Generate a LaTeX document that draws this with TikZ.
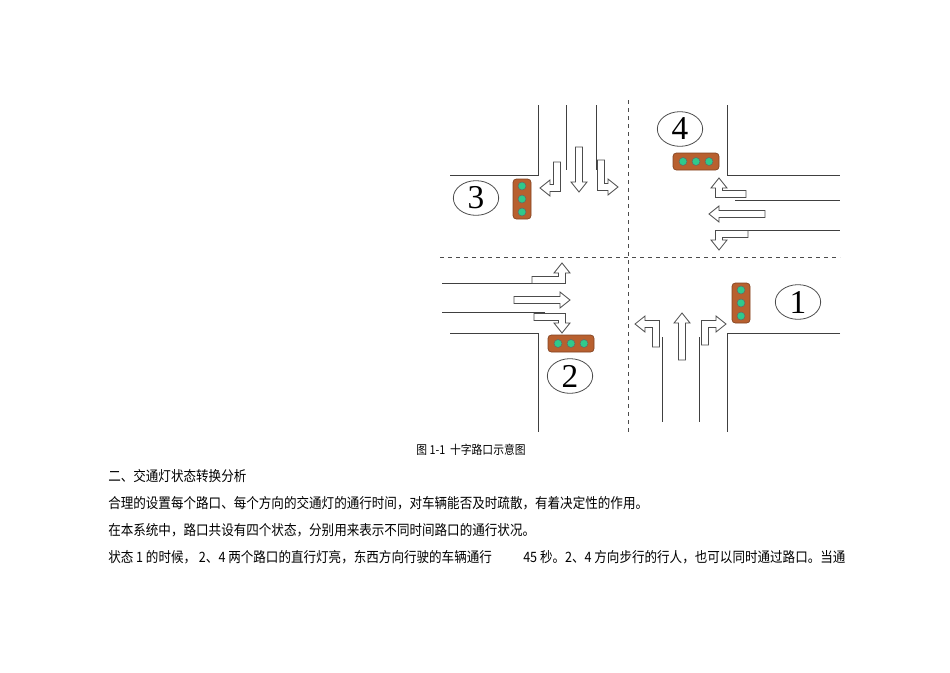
\documentclass[tikz,border=0pt]{standalone}
\usepackage{fontspec}
\usetikzlibrary{shapes.geometric}
\setmainfont{Liberation Serif}
\newfontfamily\cjk[FakeStretch=0.88]{Noto Sans CJK SC}
\newcommand\strarr[5]{\begin{scope}[shift={(#1,#2)},x={({(#3)*0.75pt},{-(#4)*0.75pt})},y={({(#4)*0.75pt},{(#3)*0.75pt})}]
\draw[arr] (0,-3.5) -- (#5-10,-3.5) -- (#5-10,-8) -- (#5,0) -- (#5-10,8) -- (#5-10,3.5) -- (0,3.5) -- cycle;
\end{scope}}
\newcommand\turnarr[8]{\begin{scope}[shift={(#1,#2)},x={({(#3)*0.75pt},{-(#4)*0.75pt})},y={({(#5)*0.75pt},{-(#6)*0.75pt})}]
\draw[arr] (0,-3.5) -- (#7+3.5,-3.5) -- (#7+3.5,#8-10) -- (#7+8,#8-10) -- (#7,#8) -- (#7-8,#8-10) -- (#7-3.5,#8-10) -- (#7-3.5,3.5) -- (0,3.5) -- cycle;
\end{scope}}
\definecolor{lbox}{HTML}{B8602F}
\definecolor{lamp}{HTML}{2FC98C}
\begin{document}
\begin{tikzpicture}[x=0.75pt,y=-0.75pt,
  road/.style={draw=black!75,line width=0.7pt},
  cline/.style={draw=black!70,line width=0.7pt,dashed},
  arr/.style={draw=black!70,fill=white,line width=0.6pt,line join=miter},
  lbx/.style={fill=lbox,draw=lbox!70!black,rounded corners=2.5pt,line width=0.5pt},
  lmp/.style={fill=lamp,draw=black!60,line width=0.4pt},
  num/.style={draw=black!70,ellipse,line width=0.6pt,minimum width=34pt,minimum height=26pt,inner sep=0pt,font=\fontsize{25}{25}\selectfont},
  txt/.style={anchor=west,inner sep=0pt,font=\cjk\fontsize{10.7}{12}\selectfont}]
\useasboundingbox (0,0) rectangle (950,672);
% dashed centre lines
\draw[cline] (628,100) -- (628,434);
\draw[cline] (440,257) -- (840,257);
% road edges
\draw[road] (538,105) -- (538,175) -- (450,175);
\draw[road] (566,105) -- (566,170);
\draw[road] (596,105) -- (596,170);
\draw[road] (727,105) -- (727,175) -- (840,175);
\draw[road] (735,200) -- (840,200);
\draw[road] (737,230) -- (840,230);
\draw[road] (840,333) -- (727,333) -- (727,432);
\draw[road] (662,337) -- (662,422);
\draw[road] (699,337) -- (699,422);
\draw[road] (450,333) -- (538,333) -- (538,432);
\draw[road] (442,283) -- (543,283);
\draw[road] (442,312) -- (545,312);
% arrows: top
\strarr{579}{147}{0}{1}{45}
\turnarr{557}{162}{0}{1}{-1}{0}{26}{17}
\turnarr{601}{160}{0}{1}{1}{0}{27}{17}
% right
\turnarr{746}{194}{-1}{0}{0}{-1}{27}{16}
\strarr{765}{214}{-1}{0}{56}
\turnarr{748}{234}{-1}{0}{0}{1}{29}{16}
% left
\turnarr{532}{280}{1}{0}{0}{-1}{30}{17}
\strarr{514}{300}{1}{0}{56}
\turnarr{534}{317}{1}{0}{0}{1}{28}{16}
% bottom
\turnarr{656}{347}{0}{-1}{-1}{0}{23}{21}
\strarr{682}{360}{0}{-1}{47}
\turnarr{705}{345}{0}{-1}{1}{0}{21}{21}
% lights
\draw[lbx] (513,179) rectangle (531,219);
\foreach \k in {-13,0,13} \draw[lmp] (522,199+\k) circle[radius=4];
\draw[lbx] (673,153) rectangle (719,170);
\foreach \k in {-13,0,13} \draw[lmp] (696+\k,161.5) circle[radius=4];
\draw[lbx] (732,283) rectangle (750,323);
\foreach \k in {-13,0,13} \draw[lmp] (741,303+\k) circle[radius=4];
\draw[lbx] (548,335) rectangle (594,352);
\foreach \k in {-13,0,13} \draw[lmp] (571+\k,343.5) circle[radius=4];
% numbers
\node[num] (n3) at (476,198) {3};
\node[num] (n4) at (680,129) {4};
\node[num] (n1) at (798,302) {1};
\node[num] (n2) at (570,376) {2};
% text
\node[anchor=center,inner sep=0pt,font=\cjk\fontsize{9.2}{10}\selectfont] (cap) at (471,450) {图 1-1\ \ 十字路口示意图};
\node[txt] (t1) at (108,476) {二、交通灯状态转换分析};
\node[txt] (t2) at (108,503) {合理的设置每个路口、每个方向的交通灯的通行时间，对车辆能否及时疏散，有着决定性的作用。};
\node[txt] (t3) at (108,530) {在本系统中，路口共设有四个状态，分别用来表示不同时间路口的通行状况。};
\node[txt] (t4) at (108,557) {状态 1 的时候， 2、4 两个路口的直行灯亮，东西方向行驶的车辆通行};
\node[txt] (t5) at (523,557) {45 秒。2、4 方向步行的行人，也可以同时通过路口。当通};
\end{tikzpicture}
\end{document}
